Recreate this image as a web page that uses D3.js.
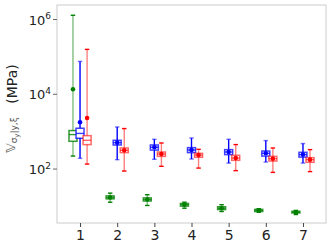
<!doctype html>
<html lang="en">
<head>
	<meta charset="UTF-8">
	<title>Box plots</title>
	<script src="https://cdn.jsdelivr.net/npm/d3@7"></script>
	<style>
		body {
			margin: 0;
			padding: 0;
			background: #fff;
			font-family: "DejaVu Sans", sans-serif;
		}
	</style>
</head>
<body>
	<div id="chart"></div>

	<script>
		// categories on the x axis
		const categories = [1, 2, 3, 4, 5, 6, 7];

		// green series (MPa): whisker low, q1, median, q3, whisker high, mean
		const greenLo   = [216, 12.6, 10.3, 8.7, 7.1, 6.8, 5.9];
		const greenQ1   = [536, 15.5, 13.6, 9.9, 8.0, 7.1, 6.5];
		const greenMed  = [811, 16.9, 14.9, 10.8, 8.7, 7.6, 6.8];
		const greenQ3   = [1038, 18.6, 16.4, 11.7, 9.5, 8.1, 7.2];
		const greenHi   = [1260000, 22.0, 20.0, 12.6, 10.8, 8.4, 7.6];
		const greenMean = [13270, 16.9, 14.9, 10.8, 8.7, 7.6, 6.8];

		// blue series
		const blueLo   = [188, 173, 177, 180, 140, 149, 140];
		const blueQ1   = [646, 427, 313, 267, 236, 216, 203];
		const blueMed  = [871, 494, 370, 313, 277, 256, 236];
		const blueQ3   = [1197, 570, 427, 363, 321, 294, 272];
		const blueHi   = [73450, 1297, 607, 658, 607, 560, 466];
		const blueMean = [1734, 494, 370, 313, 277, 256, 236];

		// red series
		const redLo   = [132, 86, 115, 103, 88, 79, 83];
		const redQ1   = [437, 267, 212, 200, 166, 159, 147];
		const redMed  = [570, 308, 245, 230, 191, 184, 173];
		const redQ3   = [759, 355, 277, 256, 226, 212, 196];
		const redHi   = [154200, 1175, 483, 327, 438, 355, 321];
		const redMean = [2259, 308, 245, 230, 191, 184, 173];

		// y tick values
		const yTicks = [1e2, 1e4, 1e6];

		const width = 332;
		const height = 249;
		const margin = { top: 5, right: 6, bottom: 26, left: 57 };

		const svg = d3.select('#chart')
			.append('svg')
			.attr('width', width)
			.attr('height', height);

		const x = d3.scaleLinear()
			.domain([0.38, 7.62])
			.range([margin.left, width - margin.right]);

		const y = d3.scaleLog()
			.domain([Math.pow(10, 0.544), Math.pow(10, 6.375)])
			.range([height - margin.bottom, margin.top]);

		// build series table from the arrays
		const series = [
			{ offset: -0.19, lo: greenLo, q1: greenQ1, med: greenMed, q3: greenQ3, hi: greenHi, mean: greenMean,
				whisker: 'rgba(0,128,0,0.5)', cap: '#008000', box: 'rgba(0,128,0,0.8)', dot: '#008000' },
			{ offset: 0, lo: blueLo, q1: blueQ1, med: blueMed, q3: blueQ3, hi: blueHi, mean: blueMean,
				whisker: '#0000ff', cap: 'rgba(0,0,255,0.55)', box: 'rgba(0,0,255,0.75)', dot: '#0000ff' },
			{ offset: 0.19, lo: redLo, q1: redQ1, med: redMed, q3: redQ3, hi: redHi, mean: redMean,
				whisker: 'rgba(255,0,0,0.5)', cap: '#ff0000', box: 'rgba(255,0,0,0.6)', dot: '#ff0000' }
		];

		const boxW = x(0.215) - x(0);
		const capW = x(0.12) - x(0);

		// frame
		svg.append('rect')
			.attr('x', margin.left)
			.attr('y', margin.top)
			.attr('width', width - margin.left - margin.right)
			.attr('height', height - margin.top - margin.bottom)
			.attr('fill', 'none')
			.attr('stroke', '#cccccc')
			.attr('stroke-width', 1);

		// x axis
		const xAxis = svg.append('g')
			.attr('transform', 'translate(0,' + (height - margin.bottom) + ')')
			.call(d3.axisBottom(x).tickValues(categories).tickSize(4).tickPadding(3).tickFormat(d3.format('d')));
		xAxis.select('.domain').remove();
		xAxis.selectAll('line').attr('stroke', '#444');
		xAxis.selectAll('text')
			.attr('font-size', 14)
			.attr('font-family', 'DejaVu Sans')
			.attr('fill', '#222');

		// y axis
		const yAxis = svg.append('g')
			.attr('transform', 'translate(' + margin.left + ',0)')
			.call(d3.axisLeft(y).tickValues(yTicks).tickSize(4).tickPadding(4).tickFormat(''));
		yAxis.select('.domain').remove();
		yAxis.selectAll('line').attr('stroke', '#666');
		const yLab = yAxis.selectAll('.tick').append('text')
			.attr('x', -6)
			.attr('dy', '0.4em')
			.attr('text-anchor', 'end')
			.attr('fill', '#222')
			.attr('font-size', 13)
			.attr('font-family', 'DejaVu Sans');
		yLab.append('tspan').text('10');
		yLab.append('tspan')
			.attr('dy', '-0.6em')
			.attr('font-size', 9)
			.text((d) => { return Math.round(Math.log10(d)); });

		// boxes
		series.forEach((s) => {
			const g = svg.append('g');
			categories.forEach((c, i) => {
				const cx = x(c + s.offset);

				// whisker line
				g.append('line')
					.attr('x1', cx).attr('x2', cx)
					.attr('y1', y(s.lo[i])).attr('y2', y(s.hi[i]))
					.attr('stroke', s.whisker)
					.attr('stroke-width', 1.4);

				// caps
				[s.lo[i], s.hi[i]].forEach((v) => {
					g.append('line')
						.attr('x1', cx - capW / 2).attr('x2', cx + capW / 2)
						.attr('y1', y(v)).attr('y2', y(v))
						.attr('stroke', s.cap)
						.attr('stroke-width', 1.4);
				});

				// box
				g.append('rect')
					.attr('x', cx - boxW / 2)
					.attr('y', y(s.q3[i]))
					.attr('width', boxW)
					.attr('height', y(s.q1[i]) - y(s.q3[i]))
					.attr('fill', '#fff')
					.attr('stroke', s.box)
					.attr('stroke-width', 1.5);

				// median
				g.append('line')
					.attr('x1', cx - boxW / 2).attr('x2', cx + boxW / 2)
					.attr('y1', y(s.med[i])).attr('y2', y(s.med[i]))
					.attr('stroke', s.box)
					.attr('stroke-width', 1.4);

				// mean
				g.append('circle')
					.attr('cx', cx)
					.attr('cy', y(s.mean[i]))
					.attr('r', 2.3)
					.attr('fill', s.dot);
			});
		});

		// y axis label
		svg.append('text')
			.attr('transform', 'translate(17,84) rotate(-90)')
			.attr('text-anchor', 'middle')
			.attr('font-size', 14)
			.attr('font-family', 'DejaVu Sans')
			.attr('fill', '#222')
			.text('(MPa)');

		const symLab = svg.append('text')
			.attr('transform', 'translate(14.5,135) rotate(-90)')
			.attr('text-anchor', 'middle')
			.attr('font-size', 13)
			.attr('font-family', 'DejaVu Sans')
			.attr('fill', '#555');
		symLab.append('tspan').text('𝕍');
		symLab.append('tspan')
			.attr('dy', '0.3em')
			.attr('font-size', 9)
			.text('σ');
		symLab.append('tspan')
			.attr('dy', '0.25em')
			.attr('font-size', 7)
			.text('y');
		symLab.append('tspan')
			.attr('dy', '-0.25em')
			.attr('font-size', 9)
			.text('|y,ξ');
	</script>
</body>
</html>
